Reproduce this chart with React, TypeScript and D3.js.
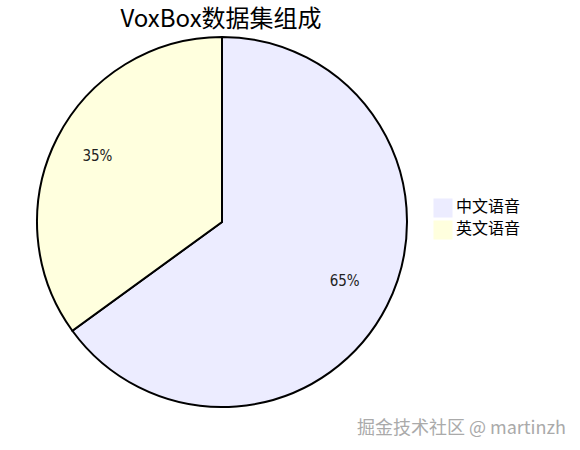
import React from "react";
import * as d3 from "d3";

const categories = ["中文语音", "英文语音"];
const values = [65, 35];
const colors = ["#ECECFF", "#FFFFDE"];
const title = "VoxBox数据集组成";
const watermark = "掘金技术社区 @ martinzh";

export default function App() {
  const W = 580, H = 450;
  const cx = 222, cy = 222, r = 185;
  const pie = d3.pie<number>().sort(null).value((d) => d)(values);
  const arc = d3.arc<d3.PieArcDatum<number>>().innerRadius(0).outerRadius(r);
  const labelArc = d3.arc<d3.PieArcDatum<number>>().innerRadius(r * 0.75).outerRadius(r * 0.75);
  const total = d3.sum(values);
  const font = "'Noto Sans CJK SC', 'DejaVu Sans', sans-serif";
  return (
    <svg width={W} height={H} style={{ position: "absolute", left: 0, top: 0, background: "#fff" }}>
      <text x={221} y={27} textAnchor="middle" fontSize={24} fontFamily={font} fill="#000">{title}</text>
      <g transform={`translate(${cx},${cy})`}>
        {pie.map((p, i) => (
          <path key={i} d={arc(p) || ""} fill={colors[i]} stroke="#000" strokeWidth={2} />
        ))}
        {pie.map((p, i) => {
          const [x, y] = labelArc.centroid(p);
          return (
            <text key={"l" + i} x={x - 1} y={y - 3} textAnchor="middle" dominantBaseline="middle" fontSize={15} fontFamily="'DejaVu Sans Condensed', 'DejaVu Sans', sans-serif" fill="#222">
              {Math.round((p.value / total) * 100)}%
            </text>
          );
        })}
      </g>
      {categories.map((c, i) => (
        <g key={c} transform={`translate(434,${199 + i * 22})`}>
          <rect width={18} height={18} fill={colors[i]} stroke={colors[i]} />
          <text x={22} y={9} dominantBaseline="middle" fontSize={16} fontFamily={font} fill="#000">{c}</text>
        </g>
      ))}
      <text x={566} y={434} textAnchor="end" fontSize={18} fontFamily={font} fill="#aaa">{watermark}</text>
    </svg>
  );
}
